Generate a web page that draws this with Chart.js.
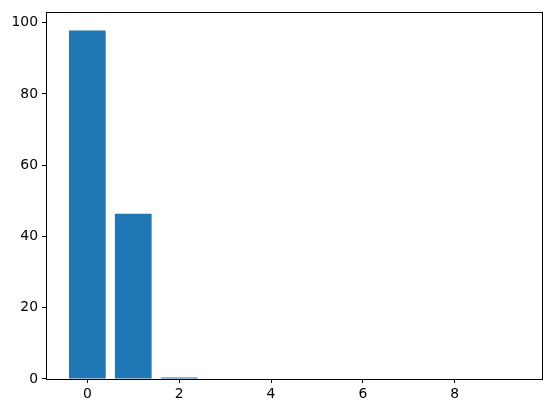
<!DOCTYPE html>
<html>
<head>
<meta charset="utf-8">
<script src="https://cdn.jsdelivr.net/npm/chart.js@4/dist/chart.umd.min.js"></script>
<style>
  html, body { margin: 0; padding: 0; background: #fff; }
  canvas { display: block; }
</style>
</head>
<body>
<canvas id="canvas" width="552" height="413"></canvas>
<script>
var positions = [0, 1, 2, 3, 4, 5, 6, 7, 8, 9];
var values = [97.8, 46.4, 0.4, 0, 0, 0, 0, 0, 0, 0];
var xTicks = [0, 2, 4, 6, 8];
var yTicks = [0, 20, 40, 60, 80, 100];

var points = positions.map(function (p, i) {
    return { x: p, y: values[i] };
});

// box round the plot area, like matplotlib spines
var frame = {
    id: 'frame',
    afterDraw: function (chart) {
        var a = chart.chartArea;
        var ctx = chart.ctx;
        ctx.save();
        ctx.strokeStyle = '#000';
        ctx.lineWidth = 1;
        ctx.strokeRect(Math.round(a.left) + 0.5, Math.round(a.top) + 0.5,
            Math.round(a.right - a.left), Math.round(a.bottom - a.top));
        ctx.restore();
    }
};

var context = document.getElementById('canvas').getContext('2d');
var barChart = new Chart(context, {
    type: 'bar',
    data: {
        datasets: [{
            data: points,
            backgroundColor: '#1f77b4',
            borderWidth: 0,
            barPercentage: 0.8,
            categoryPercentage: 1.0
        }]
    },
    options: {
        responsive: false,
        devicePixelRatio: 1,
        animation: false,
        layout: { padding: { top: 9, right: 10, left: 0, bottom: 0 } },
        plugins: { legend: { display: false }, tooltip: { enabled: false } },
        scales: {
            x: {
                type: 'linear',
                offset: false,
                min: -0.9,
                max: 9.9,
                afterBuildTicks: function (scale) {
                    scale.ticks = xTicks.map(function (v) { return { value: v }; });
                },
                afterFit: function (scale) { scale.height = 34; },
                grid: { offset: false, drawOnChartArea: false, drawTicks: true, tickLength: 4, color: '#000' },
                border: { display: false },
                ticks: { color: '#000', font: { family: 'DejaVu Sans', size: 13.9 }, padding: 3, maxRotation: 0 }
            },
            y: {
                min: 0,
                max: 102.9,
                afterBuildTicks: function (scale) {
                    scale.ticks = yTicks.map(function (v) { return { value: v }; });
                },
                afterFit: function (scale) { scale.width = 46; },
                grid: { drawOnChartArea: false, drawTicks: true, tickLength: 4, color: '#000' },
                border: { display: false },
                ticks: { color: '#000', font: { family: 'DejaVu Sans', size: 13.9 }, padding: 4 }
            }
        }
    },
    plugins: [frame]
});
</script>
</body>
</html>
